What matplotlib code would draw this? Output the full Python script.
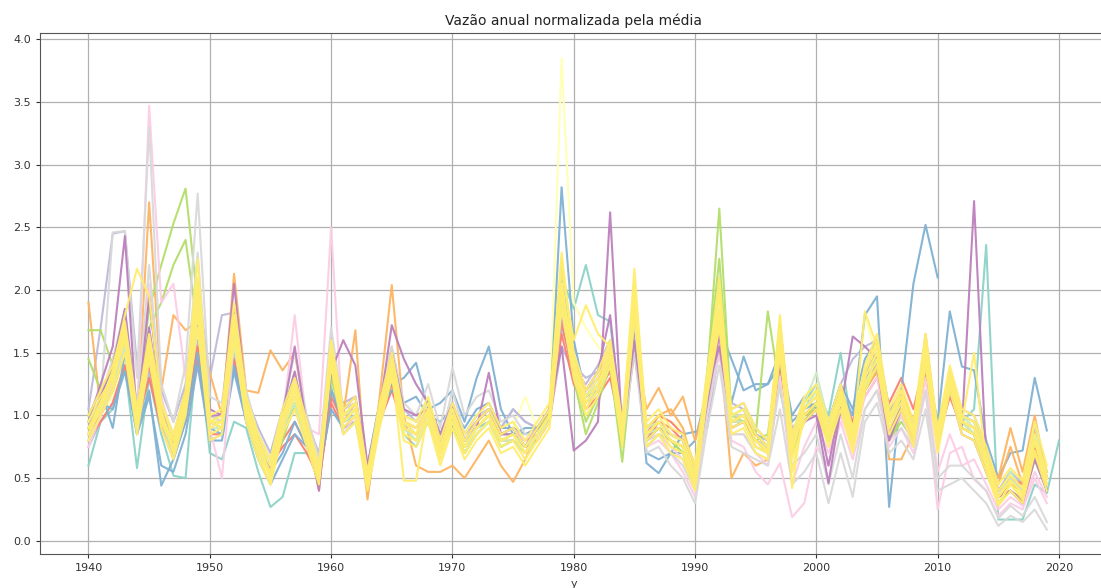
import matplotlib
matplotlib.use("Agg")
import matplotlib.pyplot as plt
import numpy as np

# Anos hidrológicos (1940-2020)
anos = list(range(1940, 2021))

# Vazão anual de cada posto dividida pela média do próprio posto
posto_01 = [0.60, 0.95, 1.05, 1.40, 0.58, 1.30, 0.85, 0.52, 0.50, 1.60,
            0.70, 0.65, 0.95, 0.90, 0.55, 0.27, 0.35, 0.70, 0.70, 0.55,
            1.25, 0.85, 0.95, 0.50, 0.95, 1.25, 0.85, 0.75, 0.95, 0.70,
            0.95, 0.70, 0.85, 0.95, 0.75, 0.80, 0.70, 0.85, 1.05, 2.10,
            1.85, 2.20, 1.80, 1.75, 0.90, 1.80, 0.85, 0.90, 0.80, 0.70,
            0.55, 1.30, 2.10, 1.00, 1.05, 0.85, 0.80, 1.45, 0.85, 1.05,
            1.20, 1.00, 1.50, 0.85, 1.25, 1.45, 1.00, 1.10, 0.90, 1.40,
            0.85, 1.20, 0.95, 1.05, 2.36, 0.17, 0.17, 0.17, 0.45, 0.38,
            0.80]
posto_02 = [0.85, 1.05, 1.20, 1.55, 1.00, 1.45, 0.95, 0.70, 1.00, 1.70,
            0.95, 0.90, 1.60, 1.00, 0.70, 0.55, 0.90, 1.10, 0.80, 0.55,
            1.35, 0.95, 1.00, 0.50, 0.95, 1.30, 0.95, 0.90, 1.00, 0.75,
            0.95, 0.80, 0.90, 0.95, 0.85, 0.85, 0.75, 0.90, 1.05, 1.85,
            1.35, 1.15, 1.20, 1.40, 0.85, 1.75, 0.90, 0.95, 0.85, 0.80,
            0.55, 1.20, 1.70, 1.00, 1.05, 0.85, 0.75, 1.50, 0.80, 1.10,
            1.25, 0.95, 1.20, 0.90, 1.35, 1.45, 1.00, 1.10, 0.90, 1.45,
            0.90, 1.25, 1.00, 0.95, 0.70, 0.40, 0.55, 0.45, 0.85, 0.55]
posto_03 = [0.95, 1.10, 1.25, 1.50, 1.05, 1.45, 1.00, 0.80, 1.05, 1.70,
            0.95, 1.00, 1.55, 1.05, 0.80, 0.60, 1.00, 1.15, 0.90, 0.60,
            1.35, 1.00, 1.05, 0.55, 1.00, 1.30, 1.00, 0.90, 1.05, 0.80,
            1.00, 0.80, 0.95, 1.00, 0.85, 0.90, 1.15, 0.90, 1.00, 3.85,
            1.90, 1.70, 1.55, 1.45, 0.90, 1.70, 0.85, 1.00, 0.95, 0.90,
            0.60, 1.20, 1.70, 1.00, 1.05, 0.90, 0.80, 1.80, 0.75, 1.10,
            1.15, 0.95, 1.10, 0.90, 1.80, 1.45, 1.00, 1.10, 0.85, 1.40,
            0.85, 1.20, 0.95, 0.95, 0.70, 0.40, 0.55, 0.45, 0.80, 0.55]
posto_04 = [0.80, 1.00, 1.15, 1.45, 0.90, 1.40, 0.95, 0.70, 1.00, 1.65,
            0.85, 0.90, 1.50, 1.00, 0.75, 0.50, 0.90, 1.10, 0.80, 0.50,
            1.30, 0.90, 1.00, 0.45, 0.95, 1.25, 0.85, 0.80, 1.00, 0.70,
            0.95, 0.75, 0.85, 0.95, 0.80, 0.80, 0.75, 0.80, 0.95, 1.80,
            1.30, 1.05, 1.20, 1.35, 0.85, 1.65, 0.85, 0.90, 0.85, 0.75,
            0.50, 1.15, 1.60, 0.90, 0.95, 0.80, 0.70, 1.50, 0.70, 1.00,
            1.10, 0.85, 1.10, 0.80, 1.25, 1.40, 0.90, 1.05, 0.80, 1.35,
            0.80, 1.15, 0.90, 0.85, 0.60, 0.35, 0.45, 0.38, 0.75, 0.45]
posto_05 = [1.05, 1.70, 2.45, 2.47, 1.40, 1.90, 1.20, 0.95, 1.25, 2.05,
            1.30, 1.80, 1.82, 1.15, 0.90, 0.70, 1.05, 1.30, 0.95, 0.70,
            1.30, 1.10, 1.15, 0.60, 1.10, 1.45, 1.05, 0.95, 1.10, 0.85,
            1.10, 0.85, 1.00, 1.05, 0.90, 1.05, 0.95, 0.90, 0.95, 1.55,
            1.35, 1.25, 1.40, 1.60, 1.00, 1.60, 0.90, 0.95, 0.85, 0.80,
            0.55, 1.25, 1.75, 1.05, 1.10, 0.90, 0.80, 1.55, 0.85, 1.05,
            1.15, 0.95, 1.20, 0.95, 1.35, 1.50, 1.05, 1.15, 0.95, 1.45,
            0.95, 1.30, 1.05, 1.00, 0.75, 0.40, 0.55, 0.45, 0.85, 0.50]
posto_06 = [0.75, 0.95, 1.10, 1.40, 0.85, 1.35, 0.90, 0.65, 0.95, 1.60,
            0.80, 0.85, 1.50, 0.95, 0.70, 0.60, 0.85, 1.05, 0.80, 0.55,
            1.20, 1.05, 1.10, 0.50, 0.95, 1.25, 0.95, 0.90, 1.00, 0.80,
            1.00, 0.85, 0.95, 1.05, 0.90, 1.05, 0.95, 0.90, 0.95, 1.70,
            1.40, 1.30, 1.35, 1.45, 0.95, 1.55, 0.85, 0.90, 0.80, 0.75,
            0.50, 1.10, 1.55, 1.10, 1.05, 0.85, 0.80, 1.40, 0.90, 1.00,
            1.10, 0.95, 1.25, 1.45, 1.55, 1.60, 1.05, 1.10, 0.95, 1.40,
            0.90, 1.25, 1.00, 0.95, 0.70, 0.40, 0.50, 0.40, 0.75, 0.50]
posto_07 = [0.85, 1.00, 1.20, 1.50, 1.05, 1.40, 0.95, 0.70, 1.00, 1.55,
            0.95, 0.90, 1.45, 1.05, 0.75, 0.55, 0.80, 0.95, 0.75, 0.45,
            1.15, 0.95, 1.05, 0.55, 1.00, 1.25, 0.95, 0.90, 1.05, 0.80,
            1.00, 0.80, 0.95, 1.05, 0.85, 0.90, 0.80, 0.85, 0.95, 1.75,
            1.30, 1.10, 1.20, 1.35, 0.90, 1.55, 0.85, 1.00, 0.95, 0.85,
            0.60, 1.15, 1.55, 1.00, 1.00, 0.85, 0.75, 1.45, 0.80, 1.00,
            1.10, 0.90, 1.15, 0.95, 1.20, 1.35, 1.10, 1.30, 1.05, 1.45,
            0.85, 1.20, 0.95, 0.90, 0.65, 0.40, 0.50, 0.45, 0.80, 0.55]
posto_08 = [0.80, 0.95, 1.10, 1.40, 0.95, 1.30, 0.90, 0.75, 0.95, 1.45,
            0.85, 0.85, 1.40, 1.00, 0.70, 0.60, 0.75, 0.85, 0.70, 0.50,
            1.10, 0.90, 1.00, 0.50, 0.95, 1.20, 0.90, 0.85, 1.00, 0.75,
            0.95, 0.75, 0.90, 1.00, 0.80, 0.85, 0.75, 0.80, 0.95, 1.65,
            1.25, 1.05, 1.15, 1.30, 0.85, 1.50, 0.80, 0.95, 0.90, 0.80,
            0.55, 1.10, 1.50, 0.95, 0.95, 0.80, 0.70, 1.40, 0.75, 0.95,
            1.05, 0.85, 1.10, 0.90, 1.15, 1.30, 1.00, 1.20, 0.95, 1.35,
            0.80, 1.15, 0.90, 0.85, 0.60, 0.35, 0.45, 0.40, 0.75, 0.50]
posto_09 = [1.00, 1.20, 0.90, 1.50, 0.90, 1.20, 0.44, 0.65, 0.95, 1.50,
            0.90, 0.85, 1.40, 1.00, 0.70, 0.55, 0.70, 0.95, 0.75, 0.60,
            1.20, 0.95, 1.00, 0.60, 1.10, 1.25, 1.30, 1.42, 1.05, 1.10,
            1.20, 0.95, 1.30, 1.55, 1.05, 0.85, 0.90, 0.90, 0.95, 2.82,
            1.60, 1.15, 1.30, 1.45, 0.85, 1.70, 0.70, 0.65, 0.70, 0.70,
            0.80, 1.20, 1.70, 1.45, 1.20, 1.25, 1.25, 1.50, 1.00, 1.15,
            1.05, 0.90, 1.20, 1.00, 1.80, 1.95, 0.27, 1.20, 2.05, 2.52,
            2.10]
posto_10 = [0.95, 1.10, 1.05, 1.35, 0.85, 1.15, 0.60, 0.55, 0.85, 1.40,
            0.80, 0.80, 1.35, 0.95, 0.65, 0.45, 0.65, 0.85, 0.75, 0.55,
            1.05, 0.90, 0.95, 0.55, 1.05, 1.20, 1.10, 1.15, 1.00, 0.95,
            1.05, 0.90, 1.05, 1.10, 0.90, 0.90, 0.85, 0.90, 1.00, 2.20,
            1.45, 1.10, 1.25, 1.40, 0.85, 1.65, 0.62, 0.54, 0.70, 0.85,
            0.87, 0.90, 1.55, 1.10, 1.47, 1.20, 1.25, 1.40, 0.95, 1.05,
            1.10, 0.95, 1.25, 1.05, 1.45, 1.60, 1.05, 1.10, 0.95, 1.40,
            0.95, 1.83, 1.39, 1.36, 0.80, 0.50, 0.70, 0.72, 1.30, 0.88]
posto_11 = [1.90, 1.05, 1.20, 1.60, 1.00, 2.70, 1.20, 1.80, 1.68, 1.75,
            1.34, 1.00, 2.13, 1.20, 1.18, 1.52, 1.36, 1.50, 0.95, 0.45,
            1.40, 1.00, 1.68, 0.33, 1.15, 2.04, 1.00, 0.60, 0.55, 0.55,
            0.60, 0.50, 0.65, 0.80, 0.60, 0.47, 0.65, 0.85, 0.95, 1.90,
            1.35, 1.05, 1.20, 1.45, 0.95, 1.60, 1.05, 1.22, 1.00, 1.15,
            0.80, 1.15, 1.60, 0.50, 0.70, 0.60, 0.65, 1.45, 0.80, 1.00,
            1.05, 0.80, 1.10, 0.85, 1.20, 1.35, 0.65, 0.65, 0.85, 1.65,
            0.85, 1.30, 0.95, 0.85, 0.65, 0.50, 0.90, 0.55, 1.00, 0.50]
posto_12 = [0.85, 1.05, 1.25, 1.55, 1.05, 1.60, 1.05, 0.80, 1.10, 1.80,
            1.00, 0.95, 1.70, 1.10, 0.80, 0.60, 0.95, 1.15, 0.85, 0.40,
            1.45, 0.95, 1.10, 0.35, 1.00, 1.55, 0.90, 0.85, 1.00, 0.70,
            0.95, 0.75, 0.90, 1.00, 0.80, 0.80, 0.70, 0.85, 1.00, 1.95,
            1.40, 1.10, 1.20, 1.45, 0.90, 1.80, 0.90, 1.00, 1.05, 0.90,
            0.55, 1.20, 1.75, 0.90, 0.95, 0.75, 0.70, 1.65, 0.75, 1.00,
            1.10, 0.85, 1.10, 0.85, 1.30, 1.50, 0.95, 1.15, 0.85, 1.60,
            0.80, 1.35, 0.95, 0.85, 0.60, 0.45, 0.75, 0.45, 0.90, 0.50]
posto_13 = [1.45, 1.20, 1.35, 1.60, 1.10, 1.85, 2.20, 2.53, 2.81, 1.90,
            1.00, 0.95, 1.80, 1.10, 0.75, 0.60, 0.80, 1.10, 0.80, 0.55,
            1.30, 0.95, 1.05, 0.50, 1.00, 1.35, 0.95, 0.85, 1.00, 0.75,
            0.90, 0.75, 0.85, 0.95, 0.80, 0.85, 0.75, 0.90, 1.05, 1.85,
            1.30, 0.85, 1.10, 1.40, 0.63, 1.60, 0.75, 0.85, 0.80, 0.70,
            0.45, 1.30, 2.65, 1.00, 0.95, 0.85, 1.83, 1.20, 0.75, 0.95,
            1.10, 0.80, 1.05, 0.80, 1.20, 1.40, 0.80, 0.95, 0.80, 1.40,
            0.80, 1.25, 0.95, 0.85, 0.55, 0.30, 0.40, 0.30, 0.65, 0.40]
posto_14 = [1.68, 1.68, 1.40, 1.70, 1.05, 1.70, 1.90, 2.20, 2.40, 1.70,
            0.95, 0.90, 1.70, 1.15, 0.80, 0.55, 0.90, 1.10, 0.85, 0.50,
            1.35, 0.95, 1.05, 0.50, 1.00, 1.35, 0.90, 0.80, 1.00, 0.70,
            0.95, 0.70, 0.85, 0.95, 0.75, 0.80, 0.70, 0.85, 1.05, 1.90,
            1.35, 0.95, 1.15, 1.40, 0.75, 1.70, 0.80, 0.90, 0.80, 0.70,
            0.45, 1.35, 2.25, 0.95, 0.95, 0.80, 0.85, 1.55, 0.70, 0.95,
            1.05, 0.80, 1.10, 0.80, 1.20, 1.40, 0.80, 1.00, 0.80, 1.40,
            0.80, 1.20, 0.90, 0.85, 0.55, 0.30, 0.40, 0.32, 0.70, 0.40]
posto_15 = [0.75, 1.00, 1.20, 1.55, 1.00, 3.47, 1.90, 2.05, 1.30, 1.95,
            0.90, 0.50, 1.60, 1.00, 0.75, 0.55, 0.95, 1.80, 0.90, 0.85,
            2.50, 0.85, 1.00, 0.45, 1.00, 1.45, 0.95, 0.90, 1.05, 0.75,
            1.05, 0.80, 0.95, 1.05, 0.85, 0.90, 0.80, 0.90, 1.05, 1.95,
            1.50, 1.20, 1.35, 1.55, 0.90, 1.70, 0.75, 0.80, 0.70, 0.55,
            0.35, 1.00, 1.50, 0.80, 0.75, 0.55, 0.45, 0.62, 0.19, 0.30,
            0.75, 0.60, 0.95, 0.65, 1.05, 1.20, 0.75, 0.90, 0.70, 1.20,
            0.25, 0.70, 0.75, 0.49, 0.40, 0.20, 0.30, 0.25, 0.50, 0.30]
posto_16 = [0.85, 1.05, 1.30, 1.70, 1.10, 2.05, 1.15, 0.80, 1.15, 1.90,
            0.95, 0.90, 1.65, 1.05, 0.75, 0.55, 0.95, 1.20, 0.85, 0.50,
            1.45, 0.95, 1.05, 0.45, 1.00, 1.35, 0.90, 0.85, 1.00, 0.70,
            0.95, 0.75, 0.90, 1.00, 0.80, 0.85, 0.70, 0.85, 1.00, 1.85,
            1.35, 1.10, 1.25, 1.45, 0.85, 1.75, 0.80, 0.85, 0.75, 0.65,
            0.40, 1.10, 1.60, 0.85, 0.85, 0.70, 0.60, 1.30, 0.45, 0.75,
            0.95, 0.70, 1.00, 0.75, 1.15, 1.30, 0.85, 1.00, 0.75, 1.30,
            0.55, 0.85, 0.60, 0.65, 0.45, 0.25, 0.35, 0.28, 0.55, 0.35]
posto_17 = [0.80, 1.10, 2.46, 2.47, 1.30, 3.30, 1.25, 0.95, 1.40, 2.77,
            1.15, 1.10, 1.85, 1.20, 0.85, 0.65, 1.05, 1.50, 1.00, 0.65,
            1.70, 1.05, 1.10, 0.55, 1.05, 1.55, 1.10, 1.00, 1.25, 0.90,
            1.38, 1.00, 1.15, 1.20, 0.95, 1.00, 0.85, 0.85, 0.95, 1.80,
            1.40, 1.20, 1.30, 1.45, 0.80, 1.50, 0.70, 0.75, 0.60, 0.50,
            0.30, 0.90, 1.40, 0.75, 0.70, 0.65, 0.60, 1.05, 0.45, 0.55,
            0.70, 0.30, 0.70, 0.35, 0.95, 1.10, 0.70, 0.80, 0.65, 1.05,
            0.40, 0.45, 0.50, 0.40, 0.30, 0.12, 0.20, 0.15, 0.25, 0.09]
posto_18 = [0.90, 1.15, 1.45, 1.85, 1.05, 2.20, 1.10, 0.85, 1.20, 2.30,
            1.00, 0.95, 1.75, 1.10, 0.80, 0.60, 1.00, 1.35, 0.90, 0.60,
            1.60, 1.00, 1.10, 0.50, 1.05, 1.50, 1.00, 0.95, 1.10, 0.80,
            1.20, 0.85, 1.00, 1.05, 0.85, 0.90, 0.75, 0.85, 1.00, 1.95,
            1.45, 1.15, 1.30, 1.50, 0.85, 1.65, 0.80, 0.85, 0.70, 0.60,
            0.40, 1.05, 1.55, 0.85, 0.85, 0.70, 0.65, 1.25, 0.60, 0.70,
            0.85, 0.45, 0.85, 0.50, 1.05, 1.20, 0.80, 0.90, 0.75, 1.20,
            0.50, 0.60, 0.60, 0.50, 0.40, 0.18, 0.28, 0.20, 0.35, 0.15]
posto_19 = [0.95, 1.25, 1.55, 2.43, 0.95, 1.95, 1.05, 0.75, 1.15, 1.80,
            1.00, 1.00, 2.05, 1.10, 0.75, 0.55, 1.00, 1.55, 0.90, 0.40,
            1.35, 1.60, 1.40, 0.60, 1.05, 1.72, 1.45, 1.25, 1.10, 0.85,
            1.10, 0.80, 0.90, 1.34, 0.85, 0.85, 0.75, 0.90, 1.05, 1.55,
            0.72, 0.80, 0.95, 2.62, 0.85, 1.60, 0.80, 0.90, 0.85, 0.80,
            0.50, 1.10, 1.65, 0.90, 0.95, 0.80, 0.75, 1.73, 0.80, 0.95,
            1.00, 0.46, 1.05, 1.63, 1.55, 1.45, 0.85, 1.10, 0.90, 1.55,
            0.75, 1.25, 0.90, 2.71, 0.65, 0.35, 0.40, 0.30, 0.65, 0.40]
posto_20 = [0.90, 1.15, 1.40, 1.85, 1.00, 1.70, 1.05, 0.80, 1.20, 1.75,
            1.05, 1.00, 1.85, 1.10, 0.80, 0.55, 1.00, 1.35, 0.85, 0.45,
            1.40, 1.05, 1.15, 0.50, 1.00, 1.50, 1.05, 1.00, 1.05, 0.80,
            1.00, 0.80, 0.95, 1.05, 0.85, 0.90, 0.75, 0.90, 1.05, 1.80,
            1.45, 1.20, 1.35, 1.80, 0.90, 1.70, 0.85, 0.90, 0.80, 0.75,
            0.50, 1.20, 1.55, 0.95, 1.00, 0.80, 0.75, 1.55, 0.80, 0.95,
            1.05, 0.60, 1.10, 0.90, 1.30, 1.40, 0.80, 1.05, 0.80, 1.40,
            0.75, 1.20, 0.85, 0.80, 0.55, 0.35, 0.40, 0.33, 0.70, 0.40]
posto_21 = [0.95, 1.10, 1.35, 1.60, 1.00, 1.50, 1.00, 0.80, 1.10, 1.80,
            0.95, 0.95, 1.65, 1.05, 0.75, 0.60, 0.95, 1.15, 0.85, 0.55,
            1.45, 1.00, 1.05, 0.50, 1.00, 1.40, 0.95, 0.85, 1.05, 0.75,
            1.00, 0.80, 0.90, 1.00, 0.80, 0.85, 0.75, 0.85, 1.00, 1.90,
            1.40, 1.15, 1.25, 1.45, 0.90, 1.80, 0.90, 0.95, 0.85, 0.80,
            0.55, 1.25, 1.85, 1.00, 1.00, 0.80, 0.75, 1.55, 0.80, 1.10,
            1.34, 0.95, 1.15, 0.90, 1.30, 1.50, 1.00, 1.15, 0.90, 1.50,
            0.85, 1.35, 1.00, 0.90, 0.65, 0.35, 0.55, 0.40, 0.85, 0.50]
posto_22 = [0.80, 1.00, 1.25, 1.55, 0.90, 1.45, 0.95, 0.70, 1.05, 1.70,
            0.90, 0.90, 1.55, 1.00, 0.70, 0.55, 0.90, 1.10, 0.80, 0.50,
            1.40, 0.95, 1.00, 0.45, 0.95, 1.35, 0.90, 0.80, 1.00, 0.70,
            0.95, 0.75, 0.85, 0.95, 0.80, 0.80, 0.70, 0.80, 1.00, 1.85,
            1.35, 1.10, 1.20, 1.40, 0.85, 1.75, 0.85, 0.90, 0.80, 0.75,
            0.50, 1.20, 1.75, 0.95, 0.95, 0.75, 0.70, 1.50, 0.75, 1.05,
            1.20, 0.90, 1.10, 0.85, 1.25, 1.45, 0.95, 1.10, 0.85, 1.45,
            0.80, 1.25, 0.95, 0.85, 0.60, 0.35, 0.50, 0.38, 0.95, 0.45]
posto_23 = [0.90, 1.10, 1.30, 1.65, 0.95, 1.55, 1.00, 0.75, 1.10, 1.85,
            0.90, 0.95, 1.75, 1.05, 0.75, 0.55, 0.95, 1.20, 0.85, 0.50,
            1.50, 0.95, 1.05, 0.45, 1.00, 1.40, 0.90, 0.85, 1.05, 0.70,
            1.00, 0.75, 0.90, 1.00, 0.80, 0.85, 0.70, 0.85, 1.00, 2.00,
            1.40, 1.10, 1.25, 1.50, 0.85, 1.90, 0.85, 0.95, 0.80, 0.75,
            0.50, 1.25, 1.80, 0.95, 1.00, 0.80, 0.72, 1.60, 0.75, 1.05,
            1.15, 0.85, 1.15, 0.80, 1.30, 1.50, 0.95, 1.15, 0.85, 1.50,
            0.80, 1.30, 0.95, 0.90, 0.65, 0.35, 0.48, 0.38, 0.78, 0.50]
posto_24 = [0.85, 1.10, 1.35, 1.80, 2.17, 1.95, 1.10, 0.80, 1.15, 2.25,
            0.95, 0.95, 1.80, 1.10, 0.80, 0.50, 1.00, 1.25, 0.85, 0.50,
            1.55, 1.00, 1.10, 0.45, 1.05, 1.40, 0.48, 0.48, 1.05, 0.70,
            1.00, 0.75, 0.90, 1.00, 0.80, 0.85, 0.70, 0.85, 1.00, 2.15,
            1.60, 1.88, 1.65, 1.55, 0.85, 2.17, 0.85, 0.95, 0.80, 0.75,
            0.45, 1.30, 2.10, 0.95, 1.00, 0.80, 0.70, 1.80, 0.42, 1.10,
            1.20, 0.85, 1.20, 0.80, 1.83, 1.55, 0.95, 1.20, 0.85, 1.55,
            0.80, 1.30, 0.95, 1.50, 0.60, 0.30, 0.45, 0.35, 0.80, 0.45]
posto_25 = [0.95, 1.15, 1.30, 1.60, 0.90, 1.60, 1.05, 0.70, 1.05, 1.95,
            0.85, 0.90, 1.70, 1.00, 0.70, 0.45, 0.90, 1.15, 0.80, 0.50,
            1.45, 0.90, 1.00, 0.42, 0.95, 1.35, 0.85, 0.80, 1.00, 0.65,
            0.95, 0.70, 0.85, 0.95, 0.75, 0.80, 0.65, 0.80, 0.95, 1.95,
            1.35, 1.05, 1.20, 1.45, 0.80, 1.95, 0.80, 0.90, 0.75, 0.70,
            0.45, 1.20, 1.75, 0.90, 0.95, 0.75, 0.70, 1.55, 0.55, 1.00,
            1.10, 0.80, 1.10, 0.75, 1.25, 1.45, 0.90, 1.10, 0.80, 1.45,
            0.75, 1.25, 0.90, 0.85, 0.60, 0.30, 0.45, 0.33, 0.72, 0.45]
posto_26 = [0.85, 1.05, 1.25, 1.70, 1.00, 1.50, 0.95, 0.80, 1.15, 1.80,
            0.95, 1.00, 1.80, 1.10, 0.80, 0.60, 1.00, 1.25, 0.90, 0.55,
            1.55, 1.00, 1.10, 0.50, 1.05, 1.45, 0.95, 0.90, 1.10, 0.75,
            1.05, 0.80, 0.95, 1.05, 0.85, 0.90, 0.75, 0.90, 1.05, 2.05,
            1.45, 1.15, 1.30, 1.55, 0.90, 1.85, 0.90, 1.00, 0.85, 0.80,
            0.55, 1.30, 1.85, 1.00, 1.05, 0.85, 0.75, 1.65, 0.80, 1.10,
            1.20, 0.90, 1.20, 0.85, 1.35, 1.55, 1.00, 1.20, 0.90, 1.55,
            0.85, 1.35, 1.00, 0.95, 0.70, 0.40, 0.52, 0.42, 0.85, 0.55]
posto_27 = [1.00, 1.20, 1.40, 1.75, 1.05, 1.65, 1.10, 0.85, 1.20, 2.05,
            1.00, 1.05, 1.90, 1.15, 0.85, 0.65, 1.05, 1.30, 0.95, 0.60,
            1.60, 1.05, 1.15, 0.55, 1.10, 1.50, 1.00, 0.95, 1.15, 0.80,
            1.10, 0.85, 1.00, 1.10, 0.90, 0.95, 0.80, 0.95, 1.10, 2.25,
            1.50, 1.20, 1.35, 1.60, 0.95, 2.05, 0.95, 1.05, 0.90, 0.85,
            0.60, 1.35, 2.00, 1.05, 1.10, 0.90, 0.80, 1.75, 0.85, 1.15,
            1.25, 0.95, 1.25, 0.90, 1.40, 1.65, 1.05, 1.25, 0.95, 1.65,
            0.90, 1.40, 1.05, 1.00, 0.75, 0.45, 0.58, 0.48, 0.95, 0.60]
posto_28 = [0.80, 1.00, 1.20, 1.50, 0.85, 1.45, 0.90, 0.65, 1.00, 1.70,
            0.80, 0.85, 1.60, 0.95, 0.65, 0.45, 0.85, 1.05, 0.75, 0.45,
            1.40, 0.85, 0.95, 0.40, 0.90, 1.30, 0.80, 0.75, 0.95, 0.60,
            0.90, 0.65, 0.80, 0.90, 0.70, 0.75, 0.60, 0.75, 0.90, 1.85,
            1.30, 1.00, 1.15, 1.40, 0.75, 1.80, 0.75, 0.85, 0.70, 0.65,
            0.40, 1.15, 1.70, 0.85, 0.90, 0.70, 0.65, 1.50, 0.65, 0.95,
            1.05, 0.75, 1.05, 0.70, 1.20, 1.40, 0.85, 1.05, 0.75, 1.40,
            0.70, 1.20, 0.85, 0.80, 0.55, 0.28, 0.40, 0.30, 0.70, 0.40]
posto_29 = [0.90, 1.05, 1.35, 1.70, 1.00, 1.60, 0.95, 0.75, 1.10, 2.10,
            0.95, 0.90, 1.80, 1.05, 0.75, 0.50, 0.95, 1.25, 0.85, 0.50,
            1.50, 0.95, 1.05, 0.45, 1.00, 1.40, 0.95, 0.85, 1.05, 0.70,
            1.00, 0.75, 0.90, 1.00, 0.80, 0.85, 0.70, 0.85, 1.00, 2.30,
            1.45, 1.10, 1.25, 1.50, 0.85, 2.00, 0.85, 0.95, 0.80, 0.75,
            0.50, 1.25, 1.95, 0.95, 1.00, 0.80, 0.72, 1.70, 0.70, 1.05,
            1.15, 0.85, 1.15, 0.80, 1.35, 1.60, 0.95, 1.15, 0.85, 1.60,
            0.80, 1.30, 0.95, 0.90, 0.65, 0.35, 0.48, 0.38, 0.80, 0.50]

postos = [posto_01, posto_02, posto_03, posto_04, posto_05, posto_06,
          posto_07, posto_08, posto_09, posto_10, posto_11, posto_12,
          posto_13, posto_14, posto_15, posto_16, posto_17, posto_18,
          posto_19, posto_20, posto_21, posto_22, posto_23, posto_24,
          posto_25, posto_26, posto_27, posto_28, posto_29]

# Paleta Set3, na ordem em que as colunas são desenhadas
cores = ["#8dd3c7", "#8dd3c7", "#ffffb3", "#ffffb3", "#bebada", "#bebada",
         "#fb8072", "#fb8072", "#80b1d3", "#80b1d3", "#fdb462", "#fdb462",
         "#b3de69", "#b3de69", "#fccde5", "#fccde5", "#d9d9d9", "#d9d9d9",
         "#bc80bd", "#bc80bd", "#ccebc5", "#ccebc5", "#ffed6f", "#ffed6f",
         "#ffed6f", "#ffed6f", "#ffed6f", "#ffed6f", "#ffed6f"]

fig = plt.figure(figsize=(11.01, 5.88), dpi=100)
ax = fig.add_axes([0.0363, 0.0578, 0.9696, 0.886])

for serie, cor in zip(postos, cores):
    ax.plot(anos[:len(serie)], serie, color=cor, lw=1.5, alpha=0.95)

ax.set_xlim(1936, 2024)
ax.set_ylim(-0.105, 4.05)
ax.set_xticks(range(1940, 2021, 10))
ax.set_yticks(np.arange(0, 4.01, 0.5))
ax.grid(True, color="#b0b0b0", lw=0.9)
ax.set_axisbelow(True)
for lado in ax.spines.values():
    lado.set_color("#555555")
ax.tick_params(labelsize=8, colors="#333333", length=3)
ax.set_title("Vazão anual normalizada pela média", fontsize=10, color="#222222")
ax.set_xlabel("y", fontsize=8, color="#333333")

fig.savefig("out.png", dpi=100)
